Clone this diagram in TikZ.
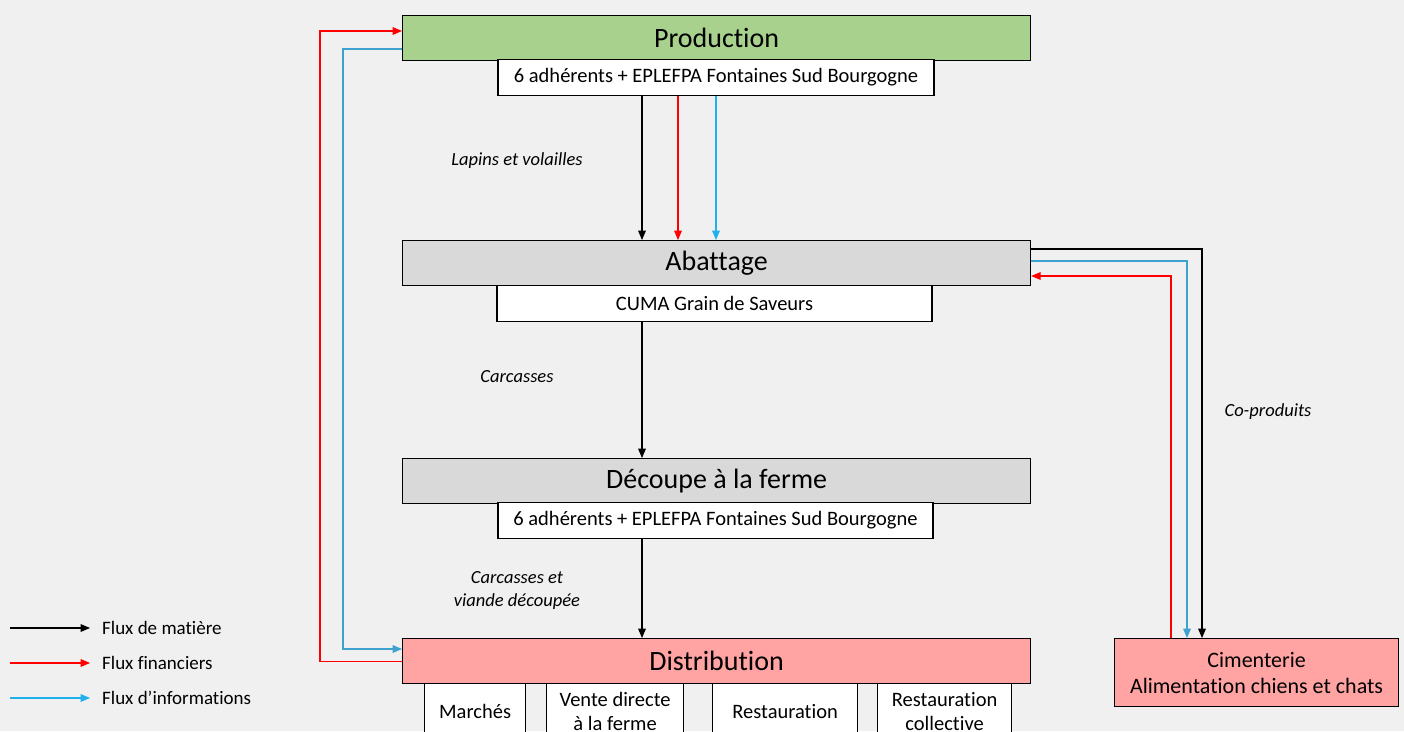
\documentclass[tikz,border=0pt]{standalone}
\usepackage{fontspec}
\setmainfont{Carlito}[Ligatures=CommonOff]
\usetikzlibrary{positioning}
\usetikzlibrary{arrows}
\usetikzlibrary{calc}

\definecolor{prodgreen}{HTML}{A9D18E}
\definecolor{stepgray}{HTML}{D9D9D9}
\definecolor{distpink}{HTML}{FFA3A3}
\definecolor{bgcolor}{HTML}{F0F0F0}
\definecolor{fluxred}{HTML}{FF0000}
\definecolor{fluxblue}{HTML}{1FB1EC}
\definecolor{infoblue}{HTML}{3DA2CF}

\tikzset{
  etape/.style={draw, line width=1.2pt, minimum width=628pt, minimum height=45pt,
    inner sep=0pt, font=\fontsize{28}{30}\selectfont},
  acteur/.style={draw, fill=white, line width=1.2pt, minimum height=36pt,
    inner sep=0pt, font=\fontsize{20.5}{22}\selectfont},
  canal/.style={draw, fill=white, line width=1.2pt, minimum height=56pt,
    inner sep=0pt, align=center, font=\fontsize{20.5}{24}\selectfont},
  flux/.style={line width=1.2pt, -triangle 45},
  fluxlabel/.style={font=\itshape\fontsize{18.5}{23}\selectfont, align=center},
  legendtext/.style={font=\fontsize{19}{20}\selectfont, anchor=west, inner sep=0pt}
}

\begin{document}
\begin{tikzpicture}[x=1pt, y=-1pt]
  % background and size
  \fill[bgcolor] (0,0) rectangle (1404,731);
  \useasboundingbox (0,0) rectangle (1404,731);

  % x positions of the vertical arrows
  \coordinate (xm) at (642,0);
  \coordinate (xr) at (678,0);
  \coordinate (xb) at (716,0);
  \coordinate (xc1) at (1202,0);
  \coordinate (xc2) at (1187,0);
  \coordinate (xc3) at (1171,0);

  % steps of the chain
  \node[etape, fill=prodgreen, anchor=north west] (prod) at (402,15) {Production};
  \node[acteur, minimum width=436pt, anchor=north] (prodsub) at (716,59)
    {6 adhérents + EPLEFPA Fontaines Sud Bourgogne};

  \node[etape, fill=stepgray, anchor=north west] (abat) at (402,240) {Abattage};
  \node[acteur, minimum width=435pt, anchor=north] (abatsub) at (714.5,285)
    {CUMA Grain de Saveurs};

  \node[etape, fill=stepgray, anchor=north west] (decoupe) at (402,458) {Découpe à la ferme};
  \node[acteur, minimum width=435pt, anchor=north] (decoupesub) at (715.5,502)
    {6 adhérents + EPLEFPA Fontaines Sud Bourgogne};

  \node[etape, fill=distpink, anchor=north west] (dist) at (402,638) {Distribution};
  \node[canal, minimum width=101pt, anchor=north west] (marches) at (424,683) {Marchés};
  \node[canal, minimum width=137pt, anchor=north west] (vente) at (546,683) {Vente directe\\à la ferme};
  \node[canal, minimum width=145pt, anchor=north west] (resto) at (712,683) {Restauration};
  \node[canal, minimum width=134pt, anchor=north west] (restocoll) at (877,683) {Restauration\\collective};

  \node[draw, fill=distpink, line width=1.2pt, minimum width=284pt, minimum height=68pt,
    inner sep=0pt, align=center, anchor=north west, font=\fontsize{22}{26}\selectfont]
    (cim) at (1114,638) {Cimenterie\\Alimentation chiens et chats};

  % flows down the chain
  \draw[flux] (prodsub.south -| xm) -- (abat.north -| xm);
  \draw[flux, fluxred] (prodsub.south -| xr) -- (abat.north -| xr);
  \draw[flux, fluxblue] (prodsub.south -| xb) -- (abat.north -| xb);
  \draw[flux] (abatsub.south -| xm) -- (decoupe.north -| xm);
  \draw[flux] (decoupesub.south -| xm) -- (dist.north -| xm);

  % co-products
  \draw[flux] ($(abat.north east)+(0,9)$) -| (cim.north -| xc1);
  \draw[flux, infoblue] ($(abat.north east)+(0,21)$) -| (cim.north -| xc2);
  \draw[flux, fluxred] (cim.north -| xc3) |- ($(abat.north east)+(0,36)$);

  % return flows
  \draw[flux, fluxred] (dist.west) -- ++(-82,0) |- ($(prod.north west)+(0,16)$);
  \draw[flux, infoblue] ($(prod.north west)+(0,34)$) -- ++(-59,0) |- ($(dist.north west)+(0,11)$);

  % labels of the flows
  \node[fluxlabel] (l1) at (517,161) {Lapins et volailles};
  \node[fluxlabel] (l2) at (517,377) {Carcasses};
  \node[fluxlabel] (l3) at (517,590) {Carcasses et\\viande découpée};
  \node[fluxlabel] (l4) at (1268,412) {Co-produits};

  % legend
  \foreach \y/\col/\txt in {628/black/Flux de matière, 663/fluxred/Flux financiers, 698/fluxblue/Flux d’informations}{
    \coordinate (leg\y) at (10,\y);
    \draw[flux, \col] (leg\y) -- ++(80,0);
    \node[legendtext] (legtxt\y) at (102,\y) {\txt};
  }
\end{tikzpicture}
\end{document}
